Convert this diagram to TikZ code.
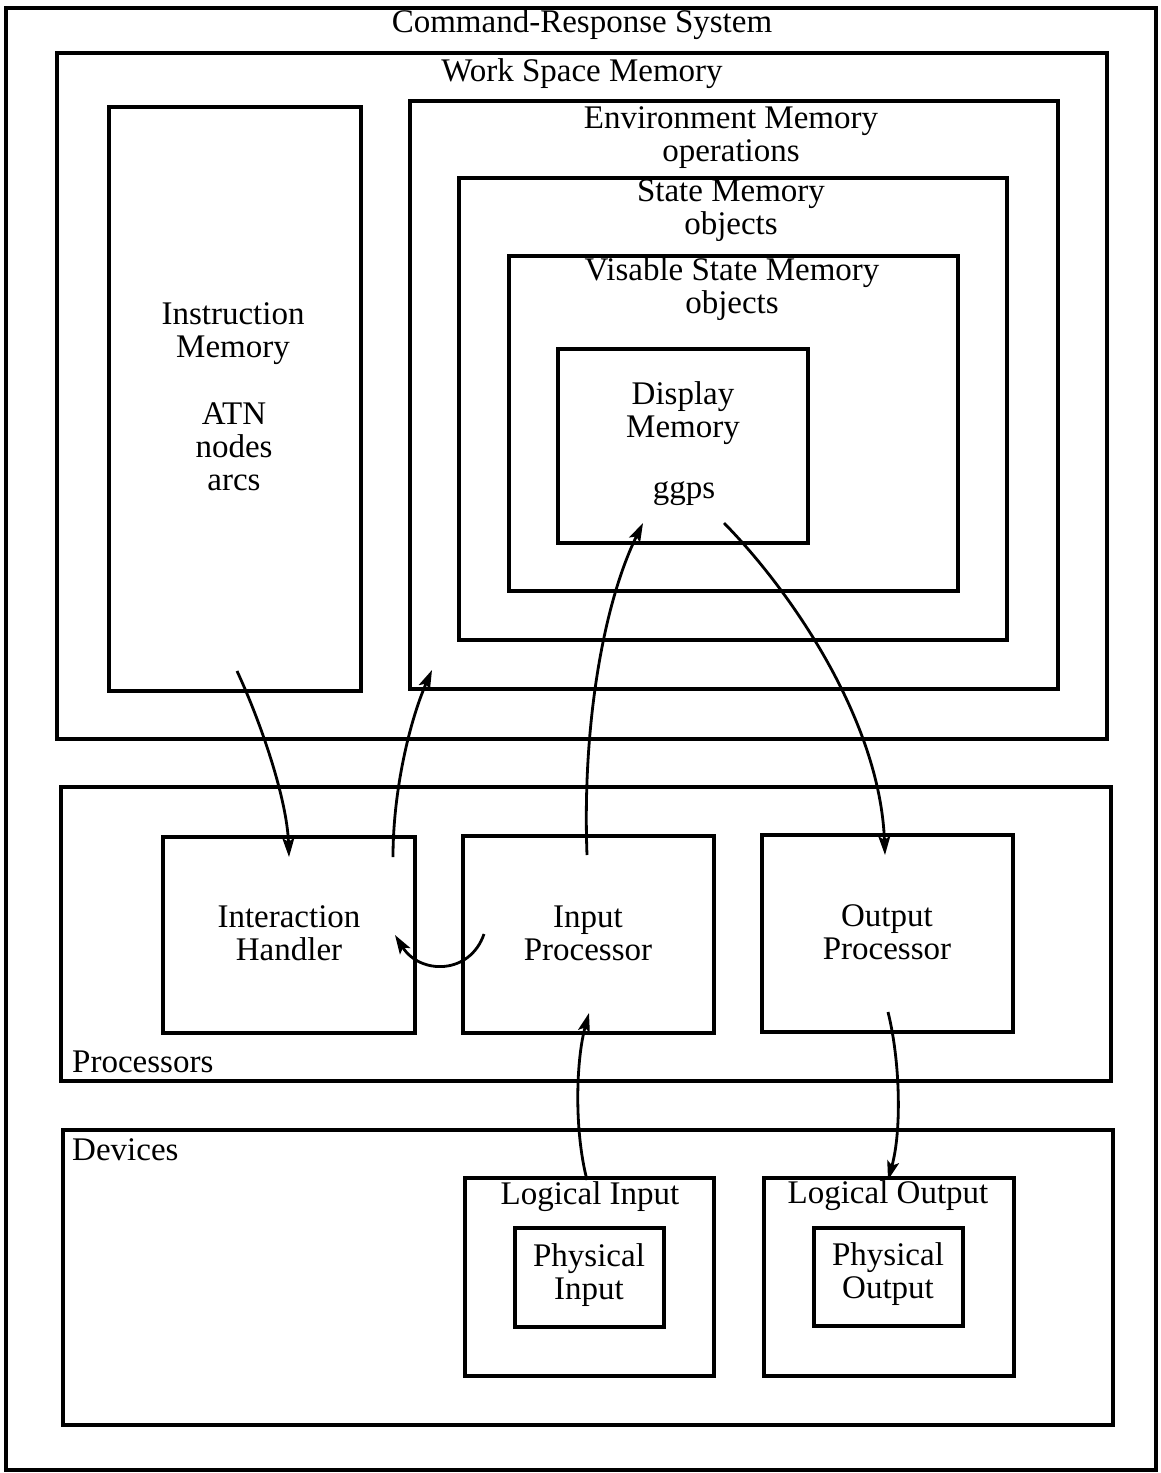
\documentclass[tikz,border=0pt]{standalone}
\usepackage{fontspec}
\setmainfont{Liberation Serif}
\usetikzlibrary{arrows.meta}
\begin{document}
\begin{tikzpicture}[x=1pt,y=-1pt,
  box/.style={draw,line width=3.2pt},
  lbl/.style={font=\fontsize{33}{33}\selectfont,align=center,inner sep=0pt},
  conn/.style={line width=2.8pt,-{Stealth[length=19pt,width=12pt,inset=4pt]}}]
\useasboundingbox (0,0) rectangle (1160,1473);
% outer frame
\draw[box] (6,8) rectangle (1156,1470);
\node[lbl] (crs) at (582,25) {Command-Response System};
% work space memory
\draw[box] (57,53) rectangle (1107,739);
\node[lbl] (wsm) at (582,74) {Work Space Memory};
% instruction memory
\draw[box] (109,107) rectangle (361,691);
\node[lbl] (imt) at (233,334) {Instruction\\Memory};
\node[lbl] (imc) at (234,447) {ATN\\nodes\\arcs};
% nested memories
\draw[box] (410,101) rectangle (1058,689);
\node[lbl] (emt) at (731,138) {Environment Memory\\operations};
\draw[box] (459,178) rectangle (1007,640);
\node[lbl] (smt) at (731,211) {State Memory\\objects};
\draw[box] (509,256) rectangle (958,591);
\node[lbl] (vsm) at (732,289) {Visable State Memory\\objects};
\draw[box] (558,349) rectangle (808,543);
\node[lbl] (dmt) at (683,413) {Display\\Memory};
\node[lbl] (ggps) at (684,494) {ggps};
% processors
\draw[box] (61,787) rectangle (1111,1081);
\node[lbl,anchor=west] (proc) at (72,1062) {Processors};
\draw[box] (163,837) rectangle (415,1033);
\node[lbl] (ih) at (289,933) {Interaction\\Handler};
\draw[box] (463,836) rectangle (714,1033);
\node[lbl] (ip) at (588,933) {Input\\Processor};
\draw[box] (762,835) rectangle (1013,1032);
\node[lbl] (op) at (887,932) {Output\\Processor};
% devices
\draw[box] (63,1130) rectangle (1113,1425);
\node[lbl,anchor=west] (dev) at (72,1150) {Devices};
\draw[box] (465,1178) rectangle (714,1376);
\node[lbl] (li) at (590,1197) {Logical Input};
\draw[box] (515,1228) rectangle (664,1327);
\node[lbl] (pi) at (589,1275) {Physical\\Input};
\draw[box] (764,1178) rectangle (1014,1376);
\node[lbl] (lo) at (888,1196) {Logical Output};
\draw[box] (814,1228) rectangle (963,1326);
\node[lbl] (po) at (888,1274) {Physical\\Output};
% connector end points
\coordinate (a1s) at (237,671);  \coordinate (a1e) at (289,857);
\coordinate (a2s) at (393,857);  \coordinate (a2e) at (432,670);
\coordinate (a3s) at (484,934);  \coordinate (a3e) at (395,935);
\coordinate (a4s) at (587,855);  \coordinate (a4e) at (643,523);
\coordinate (a5s) at (724,523);  \coordinate (a5e) at (885,855);
\coordinate (a6s) at (587,1180); \coordinate (a6e) at (589,1013);
\coordinate (a7s) at (888,1012); \coordinate (a7e) at (888,1180);
% connectors
\draw[conn] (a1s) .. controls (262,725) and (287,800) .. (a1e);
\draw[conn] (a2s) .. controls (393,790) and (410,720) .. (a2e);
\draw[conn] (a3s) .. controls (470,975) and (420,975) .. (a3e);
\draw[conn] (a4s) .. controls (582,720) and (605,600) .. (a4e);
\draw[conn] (a5s) .. controls (790,590) and (880,720) .. (a5e);
\draw[conn] (a6s) .. controls (574,1130) and (576,1060) .. (a6e);
\draw[conn] (a7s) .. controls (900,1060) and (902,1130) .. (a7e);
\end{tikzpicture}
\end{document}
